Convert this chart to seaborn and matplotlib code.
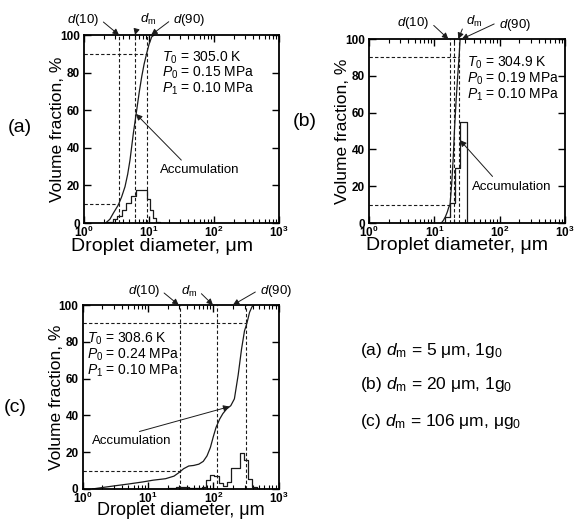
import numpy as np
import pandas as pd
import matplotlib
matplotlib.use('Agg')
import matplotlib.pyplot as plt
from matplotlib.ticker import LogLocator, NullFormatter
import seaborn as sns

######################
## Data
######################

# (a) dm = 5 um, 1g0
hist_a_edges = [2.2, 2.8, 3.2, 3.8, 4.5, 5.3, 6.3, 7.6, 9.3, 10.2, 11.5, 13.0, 14.5]
hist_a_vals = [0.7, 2.0, 3.7, 7.0, 10.5, 14.5, 17.5, 17.8, 13.0, 7.0, 2.5, 0.8]
curve_a_d = [2.15, 2.5, 2.82, 3.37, 3.8, 4.27, 4.7, 5.1, 5.74, 6.46, 7.1, 7.72, 8.4, 9.2, 10.0, 11.0, 12.0]
curve_a_v = [0, 2.0, 5.2, 9.6, 14.0, 19.3, 26.0, 33.5, 47.7, 60.0, 70.0, 77.8, 84.5, 90.2, 95.0, 99.0, 100]
marks_a = [3.4, 6.0, 9.3]          # d(10), dm, d(90)
cond_a = ['305.0 K', '0.15 MPa', '0.10 MPa']

# (b) dm = 20 um, 1g0
hist_b_edges = [14.7, 17.5, 20.9, 24.8, 31.4]
hist_b_vals = [3.0, 11.0, 30.0, 55.0]
curve_b_d = [12.8, 13.8, 14.8, 15.8, 16.6, 17.4, 18.5, 19.5, 20.3, 21.5, 22.8, 23.9, 24.8]
curve_b_v = [0, 1.5, 3.5, 6.0, 8.5, 10.0, 22.0, 36.0, 50.0, 66.0, 80.0, 90.0, 100]
marks_b = [17.4, 20.2, 23.9]
cond_b = ['304.9 K', '0.19 MPa', '0.10 MPa']

# (c) dm = 106 um, ug0
hist_c_edges = [20, 23, 27, 31, 36, 42, 49, 57, 66, 77, 89, 103, 120, 139, 162, 188, 218, 253, 294, 341, 396, 460]
hist_c_vals = [0.4, 0.8, 1.2, 1.3, 1.0, 0.6, 0.4, 0.5, 1.3, 4.8, 7.5, 7.0, 3.5, 1.5, 4.0, 11.5, 11.5, 19.5, 15.5, 5.5, 1.0]
curve_c_d = [1.4, 2.0, 3.2, 5.0, 8.2, 12, 18.6, 25, 30, 35, 42, 50, 60, 70, 80, 90, 100, 110, 125,
             140, 160, 185, 210, 240, 270, 300, 326, 358, 390, 420]
curve_c_v = [0, 0.8, 1.8, 2.7, 3.8, 4.8, 5.6, 7.0, 9.0, 11.0, 12.5, 12.8, 13.5, 15.0, 18.0, 22.5, 28.5,
             33.5, 38.0, 41.0, 43.5, 45.3, 49.0, 62.0, 76.0, 86.0, 90.0, 96.0, 99.0, 100]
marks_c = [31.4, 113.5, 311.0]
cond_c = ['308.6 K', '0.24 MPa', '0.10 MPa']

cases = ['(a) $d_\\mathrm{m}$ = 5 μm, 1g$_0$',
         '(b) $d_\\mathrm{m}$ = 20 μm, 1g$_0$',
         '(c) $d_\\mathrm{m}$ = 106 μm, μg$_0$']

######################
## Style
######################

sns.set_theme(style='ticks', font='Liberation Sans')
plt.rcParams.update({
    'mathtext.fontset': 'custom',
    'mathtext.rm': 'Liberation Sans',
    'mathtext.it': 'Liberation Sans:italic',
    'mathtext.bf': 'Liberation Sans:bold',
    'axes.linewidth': 1.3,
    'axes.edgecolor': 'black',
    'text.color': 'black',
    'axes.labelcolor': 'black',
    'xtick.color': 'black',
    'ytick.color': 'black',
})

ARROW = dict(arrowstyle='-|>', color='k', lw=0.7, mutation_scale=9, shrinkA=1, shrinkB=0)


def step_frame(edges, vals):
    return pd.DataFrame({'d': [edges[0]] + list(edges), 'v': [0] + list(vals) + [0]})


def draw_panel(ax, edges, vals, cd, cv, marks, cond, cond_pos, tips, offs, rels, acc, xlab):
    ax.set_xscale('log')
    ax.set_xlim(1, 1000)
    ax.set_ylim(0, 100)
    sns.lineplot(data=step_frame(edges, vals), x='d', y='v', estimator=None, sort=False,
                 drawstyle='steps-post', color='k', lw=0.9, ax=ax)
    sns.lineplot(x=cd, y=cv, estimator=None, sort=False, color='k', lw=0.9, ax=ax)
    dash = dict(color='k', lw=0.8, ls=(0, (3, 2)))
    for m in marks:
        ax.axvline(m, **dash)
    ax.hlines(10, 1, marks[0], **dash)
    ax.hlines(90, 1, marks[2], **dash)

    # conditions
    x0, y0 = cond_pos
    txt = '\n'.join(['$T_0$ = ' + cond[0], '$P_0$ = ' + cond[1], '$P_1$ = ' + cond[2]])
    ax.text(x0, y0, txt, transform=ax.transAxes, fontsize=10, va='top', ha='left',
            linespacing=0.95)

    # d(10), dm, d(90) markers
    labels = ['$d$(10)', '$d_\\mathrm{m}$', '$d$(90)']
    for lab, tip, off, rp in zip(labels, tips, offs, rels):
        ax.annotate(lab, xy=(tip, 1.0), xycoords=('data', 'axes fraction'),
                    xytext=off, textcoords='offset pixels', ha='center', va='center',
                    fontsize=9.5, annotation_clip=False,
                    arrowprops=dict(ARROW, relpos=rp))

    # accumulation arrow
    (tx, ty), (lx, ly), rp = acc
    ax.annotate('Accumulation', xy=(tx, ty), xytext=(lx, ly), ha='left', va='center',
                fontsize=9.5, arrowprops=dict(ARROW, relpos=rp))

    ax.set_yticks(range(0, 101, 20))
    ax.xaxis.set_major_locator(LogLocator(base=10, numticks=10))
    ax.xaxis.set_minor_locator(LogLocator(base=10, subs=np.arange(2, 10), numticks=20))
    ax.xaxis.set_minor_formatter(NullFormatter())
    ax.tick_params(which='both', direction='in', top=True, right=True, labelsize=8.5)
    ax.tick_params(which='major', length=5, width=1.0, pad=3)
    ax.tick_params(axis='x', which='major', pad=1.5)
    ax.tick_params(which='minor', length=3, width=0.8)
    plt.setp(ax.get_xticklabels() + ax.get_yticklabels(), fontweight='bold')
    xl_x, xl_y, xl_size = xlab
    ax.set_xlabel('Droplet diameter, μm', fontsize=xl_size)
    ax.set_ylabel('Volume fraction, %', fontsize=12.5)
    ax.xaxis.set_label_coords(xl_x, xl_y)
    ax.yaxis.set_label_coords(-0.095, 0.5)


fig = plt.figure(figsize=(5.79, 5.24), dpi=100)
ax_a = fig.add_axes([0.1451, 0.5744, 0.3368, 0.3588])
ax_b = fig.add_axes([0.6373, 0.5744, 0.3385, 0.3511])
ax_c = fig.add_axes([0.1428, 0.0668, 0.3385, 0.3511])

draw_panel(ax_a, hist_a_edges, hist_a_vals, curve_a_d, curve_a_v, marks_a, cond_a,
           (0.40, 0.925),
           [3.45, 6.1, 10.8], [(-36, 15), (13, 16), (38, 15)],
           [(1, 0.6), (0, 0.7), (0, 0.6)],
           ((6.3, 58), (14.8, 28), (0.32, 1)),
           (0.40, -0.078, 14))
draw_panel(ax_b, hist_b_edges, hist_b_vals, curve_b_d, curve_b_v, marks_b, cond_b,
           (0.50, 0.915),
           [16.4, 23.3, 26.3], [(-35, 16), (16, 18), (53, 14)],
           [(1, 0.6), (0, 0.6), (0, 0.7)],
           ((24.8, 45), (37.4, 19.7), (0.31, 1)),
           (0.45, -0.078, 14))
draw_panel(ax_c, hist_c_edges, hist_c_vals, curve_c_d, curve_c_v, marks_c, cond_c,
           (0.02, 0.86),
           [29.5, 98.6, 199], [(-35, 14), (-24, 14), (43, 14)],
           [(1, 0.6), (1, 0.6), (0, 0.6)],
           ((177, 44.8), (1.39, 26), (0.43, 1)),
           (0.50, -0.072, 13))

for lab, x, y in [('(a)', 20, 127), ('(b)', 305, 122), ('(c)', 15, 407)]:
    fig.text(x / 579, 1 - y / 524, lab, fontsize=14, ha='center', va='center')

for txt, y in zip(cases, [350, 385, 421.7]):
    fig.text(360 / 579, 1 - y / 524, txt, fontsize=12.5, ha='left', va='center')

fig.savefig('out.png', dpi=100)
